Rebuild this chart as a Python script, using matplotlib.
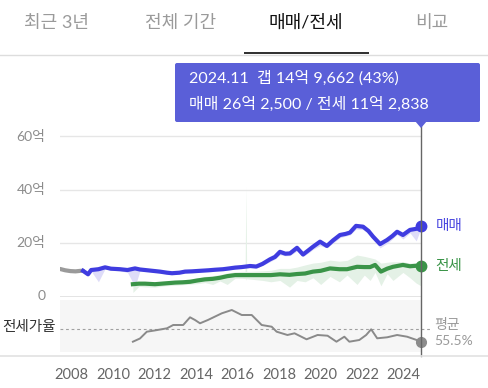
import matplotlib
matplotlib.use("Agg")
import matplotlib.pyplot as plt
from matplotlib.patches import Rectangle, FancyBboxPatch, Polygon

plt.rcParams['font.family'] = ['Lato', 'Noto Sans CJK KR', 'DejaVu Sans']

# ---------------- data ----------------
tabs = ["최근 3년", "전체 기간", "매매/전세", "비교"]
active_tab = 2

# early sale segment (gray)
early_dates = [2007.45, 2007.7, 2007.95, 2008.2, 2008.45, 2008.56]
early_vals = [10.3, 9.8, 9.5, 9.4, 9.6, 9.6]

# sale price (매매), 억
sale_dates = [2008.56, 2008.8, 2008.95, 2009.3, 2009.62, 2009.9, 2010.34, 2010.7,
              2011.06, 2011.3, 2011.54, 2011.9, 2012.26, 2012.6, 2012.84, 2013.2,
              2013.47, 2013.8, 2014.19, 2014.6, 2014.91, 2015.3, 2015.6, 2015.88,
              2016.2, 2016.6, 2016.9, 2017.2, 2017.56, 2017.8, 2018.04, 2018.3,
              2018.52, 2018.86, 2019.15, 2019.4, 2019.63, 2019.97, 2020.3, 2020.6,
              2020.93, 2021.2, 2021.41, 2021.7, 2022.04, 2022.3, 2022.52, 2022.86,
              2023.19, 2023.45, 2023.68, 2023.96, 2024.3, 2024.6, 2024.83]
sale_vals = [9.6, 8.3, 9.9, 10.2, 10.9, 10.4, 10.2, 9.9,
             10.5, 10.1, 9.9, 9.6, 9.3, 8.9, 8.7, 8.9,
             9.3, 9.4, 9.6, 9.8, 10.0, 10.2, 10.5, 10.8,
             11.0, 11.4, 11.2, 12.2, 13.9, 14.8, 16.7, 16.0,
             16.1, 18.2, 15.7, 17.2, 18.6, 20.5, 18.9, 21.0,
             23.0, 23.4, 23.9, 26.4, 26.1, 24.5, 22.4, 19.6,
             21.1, 22.6, 24.2, 23.0, 24.9, 25.3, 26.25]
# lowest deals under the sale line
sale_lo = [9.0, 8.0, 9.5, 5.5, 10.4, 9.8, 9.6, 9.0,
           3.7, 9.6, 9.5, 9.2, 8.8, 8.4, 8.2, 8.5,
           8.9, 9.0, 9.2, 9.4, 9.6, 9.8, 10.0, 10.3,
           10.5, 10.9, 10.7, 11.6, 13.0, 14.0, 15.6, 15.2,
           15.3, 17.0, 15.0, 16.2, 17.6, 19.0, 18.2, 20.0,
           22.0, 22.6, 23.0, 25.2, 25.0, 23.5, 21.4, 18.2,
           19.8, 21.5, 23.2, 21.5, 23.8, 20.8, 25.5]

# jeonse (전세), 억
jeonse_dates = [2010.96, 2011.25, 2011.54, 2012.02, 2012.51, 2012.99, 2013.35, 2013.71,
                2014.07, 2014.43, 2014.8, 2015.15, 2015.5, 2015.88, 2016.2, 2016.6,
                2017.22, 2017.6, 2018.04, 2018.5, 2018.86, 2019.25, 2019.63, 2020.0,
                2020.45, 2020.9, 2021.27, 2021.75, 2022.1, 2022.38, 2022.62, 2022.9,
                2023.2, 2023.48, 2023.96, 2024.3, 2024.6, 2024.83]
jeonse_vals = [4.6, 4.8, 4.8, 4.6, 4.9, 5.2, 5.3, 5.5,
               6.0, 6.4, 6.6, 7.0, 7.6, 8.0, 8.0, 8.0,
               8.0, 8.0, 8.3, 8.1, 8.4, 8.6, 9.3, 9.6,
               10.5, 10.2, 10.2, 11.1, 11.0, 11.0, 11.8, 9.3,
               10.4, 11.1, 11.8, 11.3, 11.5, 11.28]
jeonse_lo = [1.5, 3.8, 3.6, 3.5, 4.0, 4.2, 4.4, 4.6,
             4.8, 5.2, 4.5, 5.8, 4.5, 6.8, 6.8, 6.5,
             6.0, 5.5, 6.0, 3.5, 6.0, 5.5, 7.0, 4.5,
             7.5, 5.5, 8.0, 4.5, 8.0, 6.0, 9.0, 4.0,
             8.5, 6.0, 9.0, 7.0, 5.0, 4.0]
jeonse_hi = [5.2, 5.6, 5.5, 5.4, 5.8, 6.0, 6.2, 6.6,
             7.0, 7.5, 7.8, 8.2, 8.8, 9.2, 9.4, 9.4,
             9.6, 9.8, 10.5, 10.5, 11.0, 11.8, 12.5, 12.8,
             13.6, 13.2, 13.5, 15.5, 15.0, 14.5, 14.0, 12.5,
             12.8, 13.0, 13.0, 12.5, 12.5, 11.5]
# single outlier deal spike
spike_dates = [2016.36, 2016.40, 2016.44]
spike_lo = [8.0, 6.0, 8.0]
spike_hi = [8.0, 41.0, 8.0]

# jeonse ratio (전세가율), %
ratio_dates = [2010.96, 2011.3, 2011.63, 2012.0, 2012.6, 2012.9, 2013.38, 2013.71, 2013.95,
               2014.19, 2014.57, 2015.24, 2015.72, 2016.2, 2016.68, 2017.16, 2017.64, 2017.88,
               2018.4, 2018.74, 2019.32, 2019.85, 2020.33, 2020.76, 2021.14, 2021.38,
               2021.86, 2022.19, 2022.43, 2022.72, 2023.2, 2023.68, 2024.16, 2024.83]
ratio_vals = [42.8, 46.0, 52.8, 54.0, 56.2, 59.5, 59.5, 67.2, 64.5,
              61.2, 64.5, 71.2, 74.5, 69.5, 69.5, 59.5, 57.8, 52.8,
              49.5, 51.2, 45.2, 49.5, 48.8, 42.8, 47.8, 42.8,
              44.5, 49.5, 55.2, 46.2, 47.2, 49.5, 47.8, 43.0]
ratio_avg = 55.5

y_ticks = [0, 20, 40, 60]
y_tick_labels = ["0", "20억", "40억", "60억"]
x_ticks = [2008, 2010, 2012, 2014, 2016, 2018, 2020, 2022, 2024]

cursor_date = 2024.83
tooltip_line1 = "2024.11  갭 14억 9,662 (43%)"
tooltip_line2 = "매매 26억 2,500 / 전세 11억 2,838"

# ---------------- styling ----------------
BLUE = "#3f3ce0"
GREEN = "#3a9448"
GRAY = "#8a8a8a"
TIP = "#5a5fd8"

W, H = 488, 388
fig = plt.figure(figsize=(W / 100, H / 100), dpi=100)

def fx(px):
    return px / W

def fy(py):
    return 1 - py / H

X0, X1 = 60, 421
XL = (2007.45, 2024.83)

# main axes: 0 at y=296.5, 60 at y=136
ax_top, ax_bot = 125, 296.5
ppu = (296.5 - 136) / 60.0
ymax = (ax_bot - ax_top) / ppu
ax = fig.add_axes([fx(X0), fy(ax_bot), fx(X1 - X0), (ax_bot - ax_top) / H])
ax.set_xlim(*XL)
ax.set_ylim(0, ymax)
ax.axis("off")
for v, lab in zip(y_ticks, y_tick_labels):
    ax.axhline(v, color="#e6e6e6" if v else "#e2e2e2", lw=1.3 if v == 0 else 1.0, zorder=0)
    ax.text(-0.04, v, lab, transform=ax.get_yaxis_transform(),
            ha="right", va="center", fontsize=10, color="#8c8c8c")

ax.fill_between(jeonse_dates, jeonse_lo, jeonse_hi, color="#e4f1e6", lw=0, zorder=1)
ax.fill_between(spike_dates, spike_lo, spike_hi, color="#e4f1e6", lw=0, zorder=1)
ax.fill_between(sale_dates, sale_lo, sale_vals, color="#dedcf8", lw=0, zorder=1)

ax.plot(early_dates, early_vals, color="#9a9a9a", lw=3.0, solid_capstyle="round", zorder=3)
ax.plot(sale_dates, sale_vals, color=BLUE, lw=3.0, solid_joinstyle="round", zorder=4)
ax.plot(jeonse_dates, jeonse_vals, color=GREEN, lw=3.0, solid_joinstyle="round", zorder=4)
ax.plot([sale_dates[-1]], [sale_vals[-1]], "o", color=BLUE, ms=7.5, zorder=6, clip_on=False)
ax.plot([jeonse_dates[-1]], [jeonse_vals[-1]], "o", color=GREEN, ms=7.5, zorder=6, clip_on=False)

ax.text(1.04, sale_vals[-1], "매매", transform=ax.get_yaxis_transform(), ha="left",
        va="center", fontsize=10.5, color="#4b48e0")
ax.text(1.04, jeonse_vals[-1], "전세", transform=ax.get_yaxis_transform(), ha="left",
        va="center", fontsize=10.5, color=GREEN)

# ratio panel
p_top, p_bot = 300, 352
p_scale = 1.0  # px per %
r_top = ratio_avg + (329 - p_top) / p_scale
r_bot = ratio_avg - (p_bot - 329) / p_scale
axr = fig.add_axes([fx(X0), fy(p_bot), fx(X1 - X0), (p_bot - p_top) / H])
axr.set_xlim(*XL)
axr.set_ylim(r_bot, r_top)
axr.set_facecolor("#f6f6f6")
for s in axr.spines.values():
    s.set_visible(False)
axr.set_xticks([])
axr.set_yticks([])
axr.plot([XL[0], XL[1] + 0.5], [ratio_avg, ratio_avg], ls=(0, (2.5, 2.5)), color="#a0a0a0",
         lw=0.8, clip_on=False, zorder=1)
axr.plot(ratio_dates, ratio_vals, color=GRAY, lw=1.4, zorder=3)
axr.plot([ratio_dates[-1]], [ratio_vals[-1]], "o", color="#8c8c8c", ms=7, zorder=5, clip_on=False)

# overlay axes in pixel coords
ov = fig.add_axes([0, 0, 1, 1], zorder=10)
ov.set_xlim(0, W)
ov.set_ylim(H, 0)
ov.axis("off")
ov.patch.set_alpha(0)

# tabs
tab_x = [56, 181, 306, 432]
for i, (t, x) in enumerate(zip(tabs, tab_x)):
    ov.text(x, 23, t, ha="center", va="center", fontsize=13,
            color="#111111" if i == active_tab else "#9a9a9a")
ov.plot([0, W], [54.5, 54.5], color="#dddddd", lw=1.0)
ov.add_patch(Rectangle((244, 52), 125, 2.3, color="#333333", lw=0))

# ratio panel labels
ov.text(2, 327, "전세가율", ha="left", va="center", fontsize=10.5, color="#333333")
ov.text(434, 324, "평균", ha="left", va="center", fontsize=10, color="#9a9a9a")
ov.text(434, 341, f"{ratio_avg}%", ha="left", va="center", fontsize=10, color="#9a9a9a")

# bottom separator and x tick labels
ov.plot([0, W], [356, 356], color="#e2e2e2", lw=1.2)
for yr in x_ticks:
    px = X0 + (yr - XL[0]) / (XL[1] - XL[0]) * (X1 - X0)
    ov.text(px, 375, str(yr), ha="center", va="center", fontsize=10.5, color="#666666")

# cursor line
cx = X0 + (cursor_date - XL[0]) / (XL[1] - XL[0]) * (X1 - X0)
ov.plot([cx, cx], [122, 356], color="#666666", lw=1.0, zorder=1)

# tooltip
ov.add_patch(FancyBboxPatch((175, 63), 305, 59, boxstyle="round,pad=0,rounding_size=2",
                            fc=TIP, ec="none", zorder=5))
ov.add_patch(Polygon([[cx - 6, 121], [cx + 6, 121], [cx, 128]], closed=True, fc=TIP,
                     ec="none", zorder=5))
ov.text(189, 78, tooltip_line1, ha="left", va="center", fontsize=11.5, color="white", zorder=6)
ov.text(189, 104, tooltip_line2, ha="left", va="center", fontsize=11.5, color="white", zorder=6)

fig.savefig("out.png", dpi=100)
